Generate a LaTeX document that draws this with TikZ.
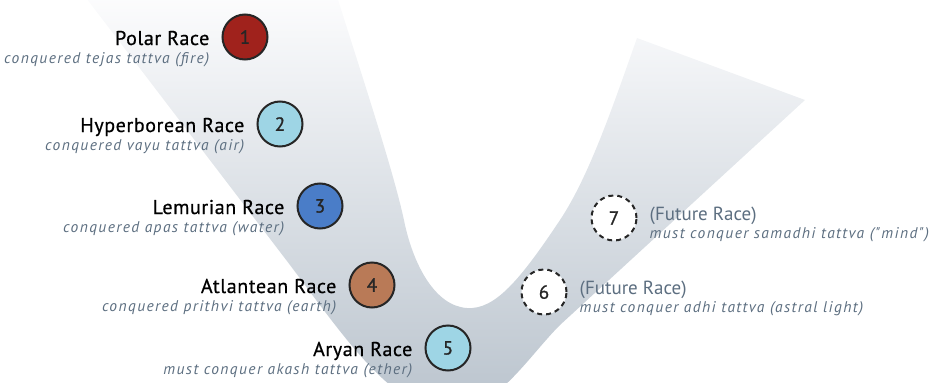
\documentclass[tikz,border=0pt]{standalone}
\usepackage{fontspec}
\setmainfont{PT Sans}
\newfontfamily\nameFont[LetterSpace=3,FakeBold=0.6]{PT Sans}
\newfontfamily\digitFont[FakeBold=1.2]{PT Sans}
\newfontfamily\noteFont[LetterSpace=9]{PT Sans}
\usetikzlibrary{calc,math}
\definecolor{fireRed}{RGB}{160,34,28}
\definecolor{airBlue}{RGB}{158,213,229}
\definecolor{waterBlue}{RGB}{74,125,200}
\definecolor{earthBrown}{RGB}{185,122,87}
\definecolor{noteGray}{RGB}{92,110,128}
\definecolor{bandTop}{RGB}{253,253,254}
\definecolor{bandMid}{RGB}{234,237,241}
\definecolor{bandBottom}{RGB}{184,194,204}
\tikzset{
  race/.style = {draw=black!85, line width=2pt, circle, minimum size=45pt,
    inner sep=0pt, text=black!85, font=\digitFont\fontsize{19}{19}\selectfont},
  future/.style = {race, dash pattern=on 5pt off 4pt, fill=white},
  raceName/.style = {inner sep=0pt, font=\nameFont\fontsize{20}{20}\selectfont},
  futureName/.style = {inner sep=0pt, text=noteGray, font=\fontsize{19}{19}\selectfont},
  raceNote/.style = {inner sep=0pt, text=noteGray,
    font=\noteFont\fontsize{15.5}{15.5}\selectfont\itshape}
}

\begin{document}
\begin{tikzpicture}[x=1pt, y=-1pt]
    \tikzmath{
      \labGap = 12;
      \labDrop = 8;
      \noteSkip = 18;
      \futDrop = 2;
    }
    \useasboundingbox (0,0) rectangle (935,383);
    % the swoosh behind the races
    \begin{scope}
      \clip (0,0) rectangle (935,383);
      \shade[top color=bandTop, middle color=bandMid, bottom color=bandBottom]
        (80,-10) -- (290,265) .. controls (350,345) and (400,420) .. (460,410)
        .. controls (500,404) and (530,355) .. (560,325) -- (805,100) -- (637,38)
        .. controls (615,100) and (590,175) .. (560,220)
        .. controls (520,280) and (495,310) .. (467,308)
        .. controls (435,306) and (414,265) .. (405,225)
        .. controls (395,175) and (360,70) .. (335,-10) -- cycle;
    \end{scope}
    % root races
    \node[race, fill=fireRed] (r1) at (245,37) {1};
    \node[race, fill=airBlue] (r2) at (280,124) {2};
    \node[race, fill=waterBlue] (r3) at (320,206) {3};
    \node[race, fill=earthBrown] (r4) at (372,285) {4};
    \node[race, fill=airBlue] (r5) at (448,348) {5};
    \node[future] (r6) at (544,292) {6};
    \node[future] (r7) at (614,218) {7};
    % labels
    \node[raceName, anchor=base east] (n1) at ($(r1.west)+(-\labGap,\labDrop)$) {Polar Race};
    \node[raceNote, anchor=base east] (s1) at ($(n1.base east)+(0,\noteSkip)$)
      {conquered tejas tattva (fire)};
    \node[raceName, anchor=base east] (n2) at ($(r2.west)+(-\labGap,\labDrop)$) {Hyperborean Race};
    \node[raceNote, anchor=base east] (s2) at ($(n2.base east)+(0,\noteSkip)$)
      {conquered vayu tattva (air)};
    \node[raceName, anchor=base east] (n3) at ($(r3.west)+(-\labGap,\labDrop)$) {Lemurian Race};
    \node[raceNote, anchor=base east] (s3) at ($(n3.base east)+(0,\noteSkip)$)
      {conquered apas tattva (water)};
    \node[raceName, anchor=base east] (n4) at ($(r4.west)+(-\labGap,\labDrop)$) {Atlantean Race};
    \node[raceNote, anchor=base east] (s4) at ($(n4.base east)+(0,\noteSkip)$)
      {conquered prithvi tattva (earth)};
    \node[raceName, anchor=base east] (n5) at ($(r5.west)+(-\labGap,\labDrop)$) {Aryan Race};
    \node[raceNote, anchor=base east] (s5) at ($(n5.base east)+(0,\noteSkip)$)
      {must conquer akash tattva (ether)};
    \node[futureName, anchor=base west] (n6) at ($(r6.east)+(\labGap,\futDrop)$) {(Future Race)};
    \node[raceNote, anchor=base west] (s6) at ($(n6.base west)+(0,\noteSkip)$)
      {must conquer adhi tattva (astral light)};
    \node[futureName, anchor=base west] (n7) at ($(r7.east)+(\labGap,\futDrop)$) {(Future Race)};
    \node[raceNote, anchor=base west] (s7) at ($(n7.base west)+(0,\noteSkip)$)
      {must conquer samadhi tattva ("mind")};
  \end{tikzpicture}
\end{document}
